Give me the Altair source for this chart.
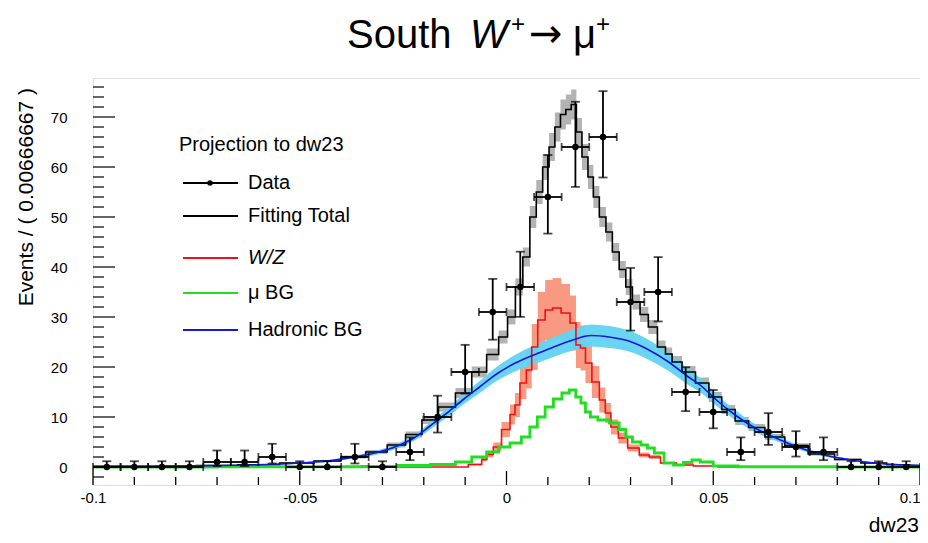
import altair as alt
import pandas as pd

# ---------------- values ----------------
n_bins = 30
x_min, x_max = -0.1, 0.1

data_counts = [0, 0, 0, 0, 1, 1, 2, 0, 0, 2, 0, 3, 10, 19, 31, 36, 54, 64, 66, 33,
               35, 15, 11, 3, 7, 4, 3, 0, 0, 0]
data_err_lo = [0, 0, 0, 0, 0.83, 0.83, 1.29, 0, 0, 1.29, 0, 1.63, 3.11, 4.32, 5.54,
               5.98, 7.32, 7.98, 8.1, 5.72, 5.89, 3.83, 3.26, 1.63, 2.58, 1.91, 1.63,
               0, 0, 0]
data_err_hi = [1.15, 1.15, 1.15, 1.15, 2.3, 2.3, 2.64, 1.15, 1.15, 2.64, 1.15, 2.92,
               4.26, 5.43, 6.62, 7.06, 8.39, 9.05, 9.17, 6.81, 6.98, 4.95, 4.4, 2.92,
               3.77, 3.16, 2.92, 1.15, 1.15, 1.15]

total_x = [-0.1, -0.09, -0.08, -0.07, -0.06, -0.0498, -0.0433, -0.0368, -0.0313, -0.0264,
           -0.0224, -0.0185, -0.0144, -0.0103, -0.0065, -0.0031, -0.0007, 0.0012, 0.0031, 0.0048,
           0.0065, 0.0079, 0.0096, 0.0110, 0.0124, 0.0137, 0.0150, 0.0163, 0.0175, 0.0190,
           0.0204, 0.0216, 0.0233, 0.0248, 0.0264, 0.0281, 0.0296, 0.0313, 0.0333, 0.0353,
           0.0377, 0.0392, 0.0409, 0.0440, 0.0474, 0.0505, 0.0536, 0.0570, 0.0601, 0.0649,
           0.0697, 0.0762, 0.0825, 0.0889, 0.0950, 0.1]
total_y = [0.15, 0.15, 0.2, 0.3, 0.45, 0.8, 1.2, 2.0, 3.0, 4.4,
           6.5, 9.4, 12.0, 14.8, 19.0, 22.5, 26.0, 30.0, 36.0, 42.0,
           50.0, 55.0, 60.0, 64.0, 68.0, 70.5, 71.5, 72.5, 67.0, 62.0,
           58.0, 54.0, 50.0, 47.0, 43.0, 39.5, 36.0, 33.0, 30.5, 28.0,
           24.0, 22.6, 21.0, 19.0, 16.8, 14.0, 11.5, 9.2, 7.9, 6.0,
           4.3, 2.6, 1.5, 0.8, 0.45, 0.3]
total_err = [0.05, 0.05, 0.05, 0.08, 0.1, 0.15, 0.2, 0.3, 0.4, 0.5,
             0.6, 0.8, 0.9, 1.0, 1.1, 1.2, 1.3, 1.5, 1.7, 1.9,
             2.2, 2.4, 2.6, 2.8, 2.9, 3.0, 3.0, 3.0, 2.8, 2.6,
             2.4, 2.2, 2.0, 1.9, 1.8, 1.7, 1.6, 1.5, 1.5, 1.4,
             1.3, 1.3, 1.2, 1.2, 1.1, 1.0, 0.9, 0.8, 0.7, 0.6,
             0.45, 0.3, 0.2, 0.12, 0.08, 0.05]

wz_x = [-0.1, -0.012, -0.0065, -0.0055, -0.004, -0.0024, 0.0, 0.0017, 0.0024, 0.0041,
        0.0055, 0.0067, 0.0084, 0.0103, 0.0120, 0.0144, 0.0163, 0.0173, 0.0185, 0.0197,
        0.0216, 0.0233, 0.0245, 0.0260, 0.0281, 0.0305, 0.0337, 0.0353, 0.0392, 0.0430,
        0.0474, 0.055, 0.1]
wz_y = [0, 0, 0.5, 1.5, 2.5, 4.0, 7.5, 10.5, 12.4, 16.8,
        19.4, 24.0, 29.4, 31.4, 31.8, 30.8, 28.8, 24.4, 23.8, 20.8,
        17.0, 13.4, 10.8, 8.0, 5.8, 3.8, 2.4, 2.0, 0.8, 0.4,
        0.2, 0.0, 0.0]
wz_err = [0, 0, 0.2, 0.4, 0.6, 0.9, 1.5, 2.0, 2.4, 3.2,
          3.7, 4.6, 5.6, 6.0, 6.0, 5.8, 5.5, 4.6, 4.5, 4.0,
          3.2, 2.5, 2.0, 1.5, 1.1, 0.7, 0.5, 0.4, 0.15, 0.08,
          0.04, 0, 0]

mubg_x = [-0.1, -0.04, -0.03, -0.0224, -0.0144, -0.0103, -0.0065, -0.0031, -0.0007, 0.0024,
          0.0048, 0.0065, 0.0084, 0.0103, 0.0124, 0.0144, 0.0160, 0.0175, 0.0185, 0.0197,
          0.0209, 0.0233, 0.0264, 0.0281, 0.0296, 0.0313, 0.0337, 0.0345, 0.0370, 0.0392,
          0.0416, 0.0440, 0.0457, 0.0480, 0.0520, 0.0600, 0.1]
mubg_y = [0, 0.05, 0.1, 0.3, 0.5, 1.0, 2.0, 3.0, 4.0, 4.8,
          6.0, 8.0, 10.0, 12.0, 13.6, 14.8, 15.4, 14.0, 12.8, 11.0,
          10.0, 9.4, 8.8, 7.5, 6.0, 5.0, 4.4, 3.8, 2.8, 0.8,
          0.4, 0.9, 1.4, 1.0, 0.2, 0.05, 0.0]

had_x = [-0.1, -0.0865, -0.0745, -0.0625, -0.0498, -0.0433, -0.0368, -0.0313, -0.0264, -0.0224,
         -0.0185, -0.0144, -0.0103, -0.0065, -0.0024, 0.0012, 0.0048, 0.0084, 0.0120, 0.0160,
         0.0204, 0.0248, 0.0296, 0.0340, 0.0392, 0.0440, 0.0474, 0.0505, 0.0553, 0.0601,
         0.0649, 0.0697, 0.0762, 0.0825, 0.0889, 0.0950, 0.1]
had_y = [0.1, 0.15, 0.25, 0.4, 0.8, 1.2, 2.0, 2.9, 4.2, 5.8,
         8.2, 10.8, 13.6, 16.0, 18.6, 20.4, 21.8, 23.0, 24.2, 25.4,
         26.3, 26.0, 25.2, 23.6, 21.0, 18.0, 16.0, 13.6, 10.4, 7.8,
         5.9, 4.2, 2.5, 1.5, 0.8, 0.45, 0.3]
had_err = [0.05, 0.05, 0.1, 0.1, 0.15, 0.2, 0.3, 0.4, 0.5, 0.6,
           0.7, 0.9, 1.0, 1.2, 1.4, 1.6, 1.8, 1.9, 2.0, 2.1,
           2.2, 2.2, 2.1, 2.0, 1.8, 1.6, 1.4, 1.2, 1.0, 0.8,
           0.6, 0.45, 0.3, 0.2, 0.12, 0.08, 0.05]

legend_header = "Projection to dw23"
legend_labels = ["Data", "Fitting Total", "W/Z", "\u03bc BG", "Hadronic BG"]
x_title = "dw23"
y_title = "Events / ( 0.00666667 )"

x_ticks_major = [-0.1, -0.05, 0, 0.05, 0.1]
x_ticks_minor = [-0.09, -0.08, -0.07, -0.06, -0.04, -0.03, -0.02, -0.01,
                 0.01, 0.02, 0.03, 0.04, 0.06, 0.07, 0.08, 0.09]
y_ticks_major = [0, 10, 20, 30, 40, 50, 60, 70]
y_ticks_minor = [v for v in range(-2, 78, 2) if v % 10 != 0]

# ---------------- tables ----------------
bw = (x_max - x_min) / n_bins
centers = [x_min + (i + 0.5) * bw for i in range(n_bins)]
df_data = pd.DataFrame({
    "x": centers,
    "xlo": [c - bw / 2 for c in centers],
    "xhi": [c + bw / 2 for c in centers],
    "y": data_counts,
    "ylo": [c - e for c, e in zip(data_counts, data_err_lo)],
    "yhi": [c + e for c, e in zip(data_counts, data_err_hi)],
})
df_tot = pd.DataFrame({"x": total_x, "y": total_y,
                       "lo": [a - b for a, b in zip(total_y, total_err)],
                       "hi": [a + b for a, b in zip(total_y, total_err)]})
df_wz = pd.DataFrame({"x": wz_x, "y": wz_y,
                      "lo": [a - b for a, b in zip(wz_y, wz_err)],
                      "hi": [a + b for a, b in zip(wz_y, wz_err)]})
df_mu = pd.DataFrame({"x": mubg_x, "y": mubg_y})
df_had = pd.DataFrame({"x": had_x, "y": had_y,
                       "lo": [a - b for a, b in zip(had_y, had_err)],
                       "hi": [a + b for a, b in zip(had_y, had_err)]})

W, H = 827, 407
Y_LO, Y_HI = -3.6, 77.8
FONT = "Liberation Sans"

xs = alt.Scale(domain=[x_min, x_max], nice=False, zero=False)
ys = alt.Scale(domain=[Y_LO, Y_HI], nice=False, zero=False)
xaxis = alt.Axis(values=x_ticks_major, labelExpr="'' + datum.value", ticks=False,
                 domain=False, grid=False, labelFontSize=15, labelFont=FONT,
                 labelColor="black", labelPadding=5, labelFlush=False,
                 labelAlign={"condition": {"test": "datum.value >= 0.1", "value": "right"},
                             "value": "center"},
                 labelOverlap=False, title=None)
yaxis = alt.Axis(values=y_ticks_major, ticks=False, domain=False, grid=False,
                 labelFontSize=15, labelFont=FONT, labelColor="black",
                 labelPadding=26, labelFlush=False, labelOverlap=False, title=None)


def X(f):
    return alt.X(f, type="quantitative", scale=xs, axis=xaxis)


def Y(f):
    return alt.Y(f, type="quantitative", scale=ys, axis=yaxis)


layers = []

# bands
layers.append(alt.Chart(df_tot).mark_area(interpolate="step", color="#9a9a9a", opacity=0.75, clip=True)
              .encode(x=X("x"), y=Y("lo"), y2="hi"))
layers.append(alt.Chart(df_wz).mark_area(interpolate="step", color="#f8957a", opacity=0.95, clip=True)
              .encode(x=X("x"), y=Y("lo"), y2="hi"))
layers.append(alt.Chart(df_had).mark_area(interpolate="monotone", color="#62d3f2", opacity=0.95, clip=True)
              .encode(x=X("x"), y=Y("lo"), y2="hi"))
# lines
layers.append(alt.Chart(df_tot).mark_line(interpolate="step", color="black", strokeWidth=1.6, clip=True)
              .encode(x=X("x"), y=Y("y")))
layers.append(alt.Chart(df_wz).mark_line(interpolate="step", color="#ee1111", strokeWidth=1.6, clip=True)
              .encode(x=X("x"), y=Y("y")))
layers.append(alt.Chart(df_mu).mark_line(interpolate="step", color="#22dd22", strokeWidth=2.8, clip=True)
              .encode(x=X("x"), y=Y("y")))
layers.append(alt.Chart(df_had).mark_line(interpolate="monotone", color="#1515dd", strokeWidth=1.6, clip=True)
              .encode(x=X("x"), y=Y("y")))

# data points with error bars
layers.append(alt.Chart(df_data).mark_rule(color="black", strokeWidth=1.8)
              .encode(x=X("x"), y=Y("ylo"), y2="yhi"))
layers.append(alt.Chart(df_data).mark_rule(color="black", strokeWidth=1.8)
              .encode(x=X("xlo"), x2="xhi", y=Y("y")))
for fy in ("ylo", "yhi"):
    layers.append(alt.Chart(df_data).mark_tick(orient="horizontal", color="black", size=9, thickness=1.8)
                  .encode(x=X("x"), y=Y(fy)))
for fx in ("xlo", "xhi"):
    layers.append(alt.Chart(df_data).mark_tick(orient="vertical", color="black", size=8, thickness=1.8)
                  .encode(x=X(fx), y=Y("y")))
layers.append(alt.Chart(df_data).mark_circle(color="black", size=42, opacity=1)
              .encode(x=X("x"), y=Y("y")))

# inward ticks (ROOT style)
layers.append(alt.Chart(pd.DataFrame({"v": x_ticks_major})).mark_rule(color="black", strokeWidth=1.3)
              .encode(x=X("v"), y=alt.value(H - 14), y2=alt.value(H)))
layers.append(alt.Chart(pd.DataFrame({"v": x_ticks_minor})).mark_rule(color="black", strokeWidth=1.3)
              .encode(x=X("v"), y=alt.value(H - 8), y2=alt.value(H)))
layers.append(alt.Chart(pd.DataFrame({"v": y_ticks_major})).mark_rule(color="black", strokeWidth=1.2)
              .encode(y=Y("v"), x=alt.value(0), x2=alt.value(22)))
layers.append(alt.Chart(pd.DataFrame({"v": y_ticks_minor})).mark_rule(color="black", strokeWidth=1.2)
              .encode(y=Y("v"), x=alt.value(0), x2=alt.value(11)))


def txt(s, x, y, size, align="left", baseline="alphabetic", style="normal", angle=0,
        font=FONT):
    return (alt.Chart(pd.DataFrame({"t": [s]}))
            .mark_text(align=align, baseline=baseline, fontSize=size, font=font,
                       fontStyle=style, angle=angle, color="black")
            .encode(x=alt.value(x), y=alt.value(y), text="t:N"))


def seg(x1, x2, y, color, width):
    return (alt.Chart(pd.DataFrame({"k": [0]})).mark_rule(color=color, strokeWidth=width)
            .encode(x=alt.value(x1), x2=alt.value(x2), y=alt.value(y)))


# legend
leg_y = [105, 138, 180, 215, 252]
leg_colors = ["black", "black", "#ee1111", "#22dd22", "#1515dd"]
layers.append(txt(legend_header, 86, 67, 20, baseline="middle"))
for i, (lab, col) in enumerate(zip(legend_labels, leg_colors)):
    layers.append(seg(90, 145, leg_y[i], col, 2.2))
    layers.append(txt(lab, 155, leg_y[i], 20, baseline="middle",
                      style="italic" if lab == "W/Z" else "normal"))
layers.append(alt.Chart(pd.DataFrame({"k": [0]})).mark_circle(color="black", size=30, opacity=1)
              .encode(x=alt.value(117), y=alt.value(leg_y[0])))

# axis titles
layers.append(txt(x_title, 826, 454, 21, align="right"))
layers.append(txt(y_title, -66, 10, 21, align="right", baseline="middle", angle=270))

# main title: South W+ -> mu+
layers.append(txt("South", 254, -30, 40))
layers.append(txt("W", 377, -30, 40, style="italic"))
layers.append(txt("+", 418, -46, 24))
layers.append(txt("\u2192", 436, -31, 40, font="DejaVu Sans"))
layers.append(txt("\u03bc", 480, -30, 40))
layers.append(txt("+", 503, -46, 24))

chart = (alt.layer(*layers)
         .properties(width=W, height=H,
                     autosize=alt.AutoSizeParams(type="none"),
                     padding={"left": 85, "top": 70, "right": 0, "bottom": 50})
         .configure_view(stroke="black", strokeWidth=1.2)
         .configure(background="white"))

chart.save("out.html", embed_options={"renderer": "svg", "actions": False})
